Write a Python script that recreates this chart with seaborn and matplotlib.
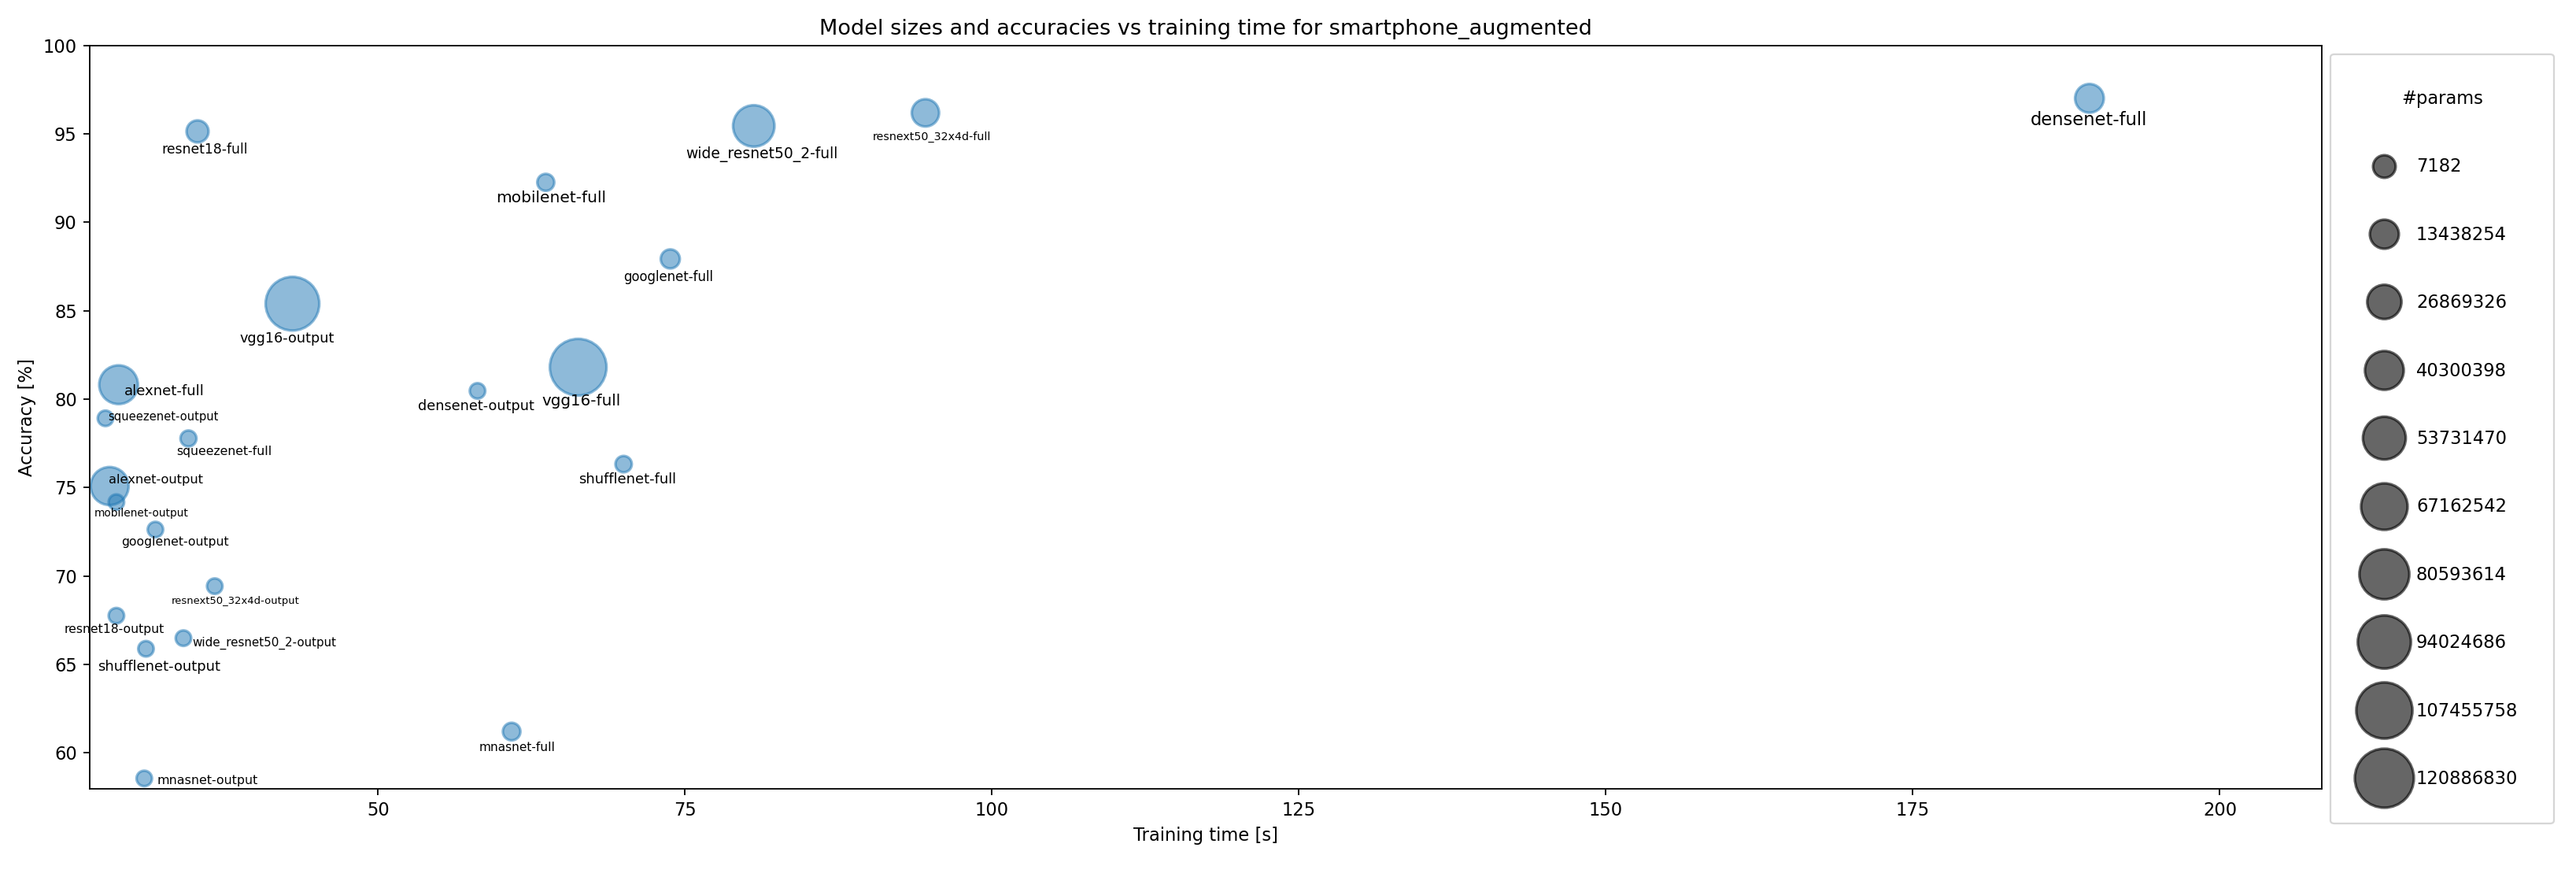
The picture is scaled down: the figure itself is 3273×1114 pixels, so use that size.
import numpy as np
import pandas as pd
import seaborn as sns
import matplotlib.pyplot as plt
from matplotlib.lines import Line2D

# model results (training time in s, accuracy in %, trainable params)
models = [
    "resnet18-full", "wide_resnet50_2-full", "mobilenet-full", "googlenet-full",
    "vgg16-output", "vgg16-full", "densenet-output", "alexnet-full",
    "squeezenet-output", "squeezenet-full", "shufflenet-full", "alexnet-output",
    "mobilenet-output", "googlenet-output", "resnext50_32x4d-output", "resnet18-output",
    "wide_resnet50_2-output", "shufflenet-output", "mnasnet-full", "mnasnet-output",
    "resnext50_32x4d-full", "densenet-full",
]
train_time = [
    35.3, 80.6, 63.66, 73.8,
    43.03, 66.3, 58.1, 28.87,
    27.8, 34.56, 70.0, 28.14,
    28.69, 31.87, 36.7, 28.69,
    34.15, 31.1, 60.88, 30.96,
    94.58, 189.38,
]
accuracy = [
    95.13, 95.44, 92.25, 87.92,
    85.39, 81.8, 80.46, 80.81,
    78.91, 77.77, 76.32, 75.08,
    74.17, 72.62, 69.42, 67.75,
    66.48, 65.88, 61.2, 58.55,
    96.18, 97.0,
]
params = [
    11183694, 66862926, 2241806, 5614254,
    119603214, 134317902, 30926, 57061198,
    7182, 742606, 1267954, 54591502,
    17934, 14350, 28686, 7182,
    28686, 14350, 3120246, 17934,
    23008590, 26502926,
]

# label layout: offset from the point (points) and font size
label_offsets = [
    (3.9, -10.0), (4.5, -15.7), (3.0, -8.8), (-1.1, -10.0),
    (-3.0, -19.4), (1.8, -19.1), (-0.7, -8.8), (25.6, -3.8),
    (32.5, 0.6), (19.9, -7.5), (2.2, -8.8), (26.0, 3.4),
    (14.1, -6.3), (11.0, -7.2), (11.5, -8.5), (-1.0, -7.6),
    (45.4, -2.8), (7.2, -10.3), (3.3, -8.8), (35.3, -1.2),
    (3.8, -13.3), (-0.5, -12.4),
]
label_sizes = [
    7.6, 8.3, 8.9, 7.3,
    7.8, 8.8, 7.8, 8.0,
    6.5, 6.9, 7.9, 7.2,
    6.1, 6.9, 5.8, 6.9,
    6.7, 7.9, 6.8, 7.0,
    6.3, 10,
]

df = pd.DataFrame({"model": models, "train_time": train_time,
                   "accuracy": accuracy, "params": params})

DPI = 163
fig = plt.figure(figsize=(3273 / DPI, 1114 / DPI), dpi=DPI)
ax = fig.add_axes([0.03474, 0.10009, 0.86657, 0.84829])

sns.scatterplot(data=df, x="train_time", y="accuracy", size="params",
                sizes=(75, 1010), color="#1f77b4", edgecolor="#1f77b4",
                alpha=0.5, linewidth=1.5, legend=False, ax=ax)

for i, row in df.iterrows():
    ax.annotate(row["model"], xy=(row["train_time"], row["accuracy"]),
                xytext=label_offsets[i], textcoords="offset points",
                ha="center", va="center", fontsize=label_sizes[i])

ax.set_xlim(26.5, 208.3)
ax.set_ylim(57.94, 100)
ax.set_xlabel("Training time [s]")
ax.set_ylabel("Accuracy [%]")
ax.set_title("Model sizes and accuracies vs training time for smartphone_augmented")

# size legend with evenly spaced parameter counts
p = np.array(params)
leg_vals = np.linspace(p.min(), p.max(), 11)[:-1]
leg_sizes = 160 + (leg_vals - p.min()) / (p.max() - p.min()) * 1040
handles = [Line2D([], [], marker="o", linestyle="", markersize=np.sqrt(s),
                  markerfacecolor=(0, 0, 0, 0.6), markeredgecolor=(0, 0, 0, 0.6),
                  markeredgewidth=1.5) for s in leg_sizes]
labels = [str(int(round(v))) for v in leg_vals]
ax.legend(handles, labels, title="#params", loc="upper left",
          bbox_to_anchor=(1, 1), borderpad=2, labelspacing=2.8)

fig.savefig("out.png", dpi=DPI)
